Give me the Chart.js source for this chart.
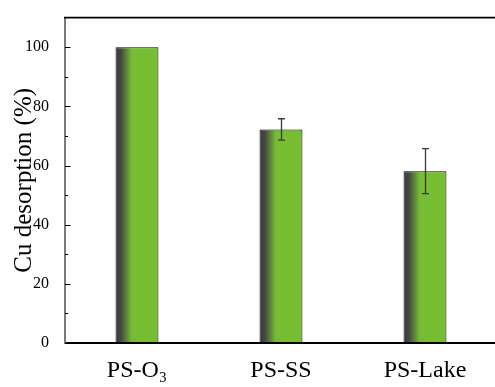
<!DOCTYPE html>
<html>
<head>
<meta charset="utf-8">
<script src="https://cdn.jsdelivr.net/npm/chart.js@4/dist/chart.umd.min.js"></script>
<style>
html,body{margin:0;padding:0;background:#fff;overflow:hidden;width:495px;height:387px;}
canvas{position:absolute;left:0;top:0;}
</style>
</head>
<body>
<canvas id="c" width="510" height="387"></canvas>
<script>
const categories = ['PS-O\u2083', 'PS-SS', 'PS-Lake'];
const desorption = [100, 72.2, 58.1];
const errors = [0, 3.6, 7.6];
const yTicks = [0, 20, 40, 60, 80, 100];
const yMinorTicks = [10, 30, 50, 70, 90];

const FONT = '"Liberation Serif", "Times New Roman", serif';

const gradientPlugin = {
  id: 'gradBars',
  beforeDatasetsDraw(chart) {
    const ctx = chart.ctx;
    const meta = chart.getDatasetMeta(0);
    meta.data.forEach(el => {
      const w = el.width;
      const x0 = el.x - w / 2, x1 = el.x + w / 2;
      const g = ctx.createLinearGradient(x0, 0, x1, 0);
      g.addColorStop(0, '#3c3c3c');
      g.addColorStop(0.12, '#434641');
      g.addColorStop(0.38, '#77bd34');
      g.addColorStop(1, '#78be33');
      el.options = Object.assign({}, el.options, { backgroundColor: g });
    });
  }
};

const framePlugin = {
  id: 'frame',
  afterDatasetsDraw(chart) {
    const ctx = chart.ctx;
    const a = chart.chartArea;
    const ys = chart.scales.y;
    const meta = chart.getDatasetMeta(0);
    ctx.save();
    // error bars
    ctx.strokeStyle = '#3a3a3a';
    ctx.lineWidth = 1.3;
    meta.data.forEach((el, i) => {
      const e = errors[i];
      if (!e) return;
      const yt = ys.getPixelForValue(desorption[i] + e);
      const yb = ys.getPixelForValue(desorption[i] - e);
      const x = Math.round(el.x) + 0.5;
      ctx.beginPath();
      ctx.moveTo(x, yt); ctx.lineTo(x, yb);
      ctx.moveTo(x - 3.5, yt); ctx.lineTo(x + 3.5, yt);
      ctx.moveTo(x - 3.5, yb); ctx.lineTo(x + 3.5, yb);
      ctx.stroke();
    });
    // inward ticks on y axis
    ctx.strokeStyle = '#000';
    ctx.lineWidth = 1;
    yTicks.forEach(v => {
      const y = Math.round(ys.getPixelForValue(v)) + 0.5;
      ctx.beginPath(); ctx.moveTo(a.left, y); ctx.lineTo(a.left + 5.5, y); ctx.stroke();
    });
    yMinorTicks.forEach(v => {
      const y = Math.round(ys.getPixelForValue(v)) + 0.5;
      ctx.beginPath(); ctx.moveTo(a.left, y); ctx.lineTo(a.left + 3, y); ctx.stroke();
    });
    // top frame line
    ctx.strokeStyle = '#000';
    ctx.lineWidth = 1.6;
    ctx.beginPath(); ctx.moveTo(a.left - 1, a.top); ctx.lineTo(a.right, a.top); ctx.stroke();
    ctx.restore();
  }
};

new Chart(document.getElementById('c'), {
  type: 'bar',
  data: {
    labels: categories,
    datasets: [{
      data: desorption,
      backgroundColor: '#78be33',
      borderColor: '#000',
      borderWidth: 1,
      borderSkipped: false,
      categoryPercentage: 1,
      barPercentage: 0.298
    }]
  },
  options: {
    responsive: false,
    animation: false,
    events: [],
    layout: { padding: { top: 12.5, right: 13, left: 0, bottom: 0 } },
    plugins: { legend: { display: false }, tooltip: { enabled: false } },
    scales: {
      x: {
        grid: { display: false },
        border: { display: true, color: '#000', width: 2 },
        ticks: { color: '#000', font: { family: FONT, size: 24 }, padding: 5, maxRotation: 0 },
        afterFit(s) { s.height = 44; }
      },
      y: {
        min: 0, max: 110,
        grid: { display: false },
        border: { display: true, color: '#7a7a7a', width: 2 },
        ticks: {
          stepSize: 10,
          color: '#000',
          padding: 8,
          font: { family: FONT, size: 16 },
          callback: v => (v % 20 === 0 && v <= 100) ? String(v) : ''
        },
        title: {
          display: true,
          text: 'Cu desorption (%)',
          color: '#000',
          font: { family: FONT, size: 25 },
          padding: { top: 9, bottom: 0 }
        },
        afterFit(s) { s.width = 65; }
      }
    }
  },
  plugins: [gradientPlugin, framePlugin]
});
</script>
</body>
</html>
